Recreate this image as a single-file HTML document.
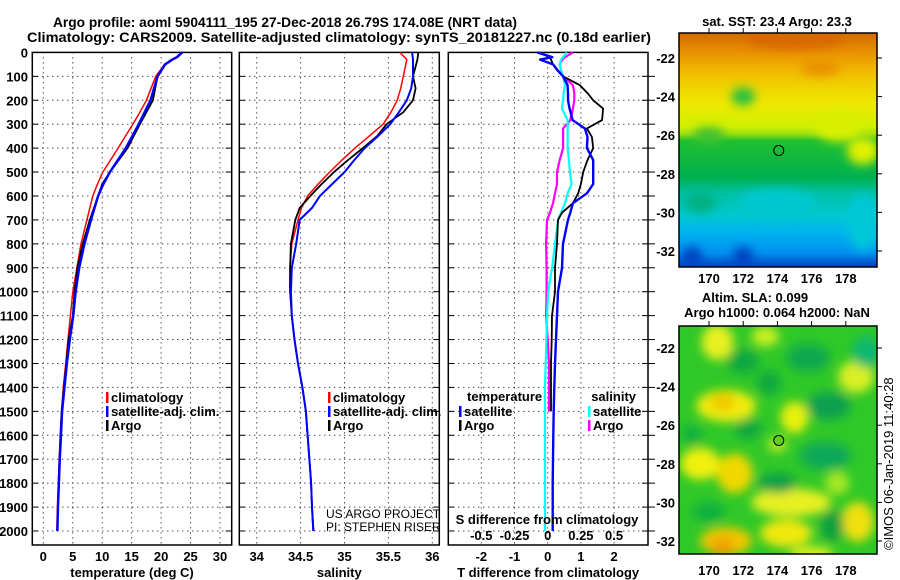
<!DOCTYPE html>
<html><head><meta charset="utf-8"><style>
html,body{margin:0;padding:0;background:#fff;}
svg{display:block;font-family:"Liberation Sans",Arial,sans-serif;}
.b{font-weight:bold;font-size:13px;}
</style></head><body>
<svg id="chart" width="900" height="580" viewBox="0 0 900 580" xmlns="http://www.w3.org/2000/svg">
<defs>
<filter id="blur1" x="-10%" y="-10%" width="120%" height="120%"><feGaussianBlur stdDeviation="5"/></filter>
<filter id="blur2" x="-10%" y="-10%" width="120%" height="120%"><feGaussianBlur stdDeviation="5"/></filter>
<clipPath id="clipM1"><rect x="679" y="33" width="198" height="234"/></clipPath>
<clipPath id="clipM2"><rect x="679" y="326" width="198" height="228"/></clipPath>
<linearGradient id="sstGrad" x1="0" y1="0" x2="0" y2="1">
<stop offset="0" stop-color="#d46a00"/><stop offset="0.08" stop-color="#e89000"/>
<stop offset="0.16" stop-color="#f2b800"/><stop offset="0.22" stop-color="#f0d000"/>
<stop offset="0.3" stop-color="#f0e800"/><stop offset="0.4" stop-color="#d0f000"/>
<stop offset="0.43" stop-color="#a0e010"/>
<stop offset="0.46" stop-color="#20c030"/><stop offset="0.62" stop-color="#00b050"/>
<stop offset="0.68" stop-color="#00c0a0"/><stop offset="0.78" stop-color="#00c8d0"/>
<stop offset="0.86" stop-color="#00b0f0"/><stop offset="0.94" stop-color="#0090f0"/>
<stop offset="1" stop-color="#0040c0"/></linearGradient>
</defs>
<g id="title">
<text x="53" y="27" font-size="14" font-weight="bold" textLength="464" lengthAdjust="spacingAndGlyphs">Argo profile: aoml 5904111_195 27-Dec-2018 26.79S 174.08E (NRT data)</text>
<text x="27" y="42" font-size="14" font-weight="bold" textLength="624" lengthAdjust="spacingAndGlyphs">Climatology: CARS2009. Satellite-adjusted climatology: synTS_20181227.nc (0.18d earlier)</text>
</g>
<g id="plots"></g>
<g id="maps"></g>
</svg>
<script>
// ---------- data ----------
const tDepth = [0,20,30,50,100,150,200,250,300,400,500,550,600,700,800,900,1000,1100,1200,1300,1400,1500,1600,1700,1800,1900,2000];
const tArgo  = [23.5,22.6,21.8,20.6,19.4,19.0,18.6,17.5,16.4,14.3,11.3,10.0,9.3,7.9,6.7,5.8,5.3,5.0,4.3,3.9,3.5,3.1,2.9,2.75,2.6,2.5,2.4];
const tClim  = [23.6,22.6,21.8,20.6,19.1,18.3,17.5,16.4,15.2,12.7,10.1,9.2,8.4,7.4,6.4,5.7,5.0,4.6,4.2,3.8,3.4,3.1,2.9,2.7,2.55,2.4,2.3];
const tSat   = [23.6,22.7,21.9,20.7,19.4,18.8,18.2,17.2,16.2,14.0,11.3,10.2,9.3,8.1,7.0,6.1,5.5,5.1,4.5,4.0,3.6,3.2,3.0,2.8,2.65,2.5,2.4];
const sDepth = [0,30,100,150,200,250,300,350,400,450,500,550,600,650,700,800,900,1000,1100,1200,1300,1400,1500,1600,1700,1800,1900,2000];
const sArgo  = [35.84,35.83,35.78,35.81,35.78,35.67,35.48,35.37,35.21,35.04,34.88,34.74,34.61,34.49,34.44,34.39,34.38,34.38,34.40,34.43,34.47,34.52,34.56,34.58,34.60,34.62,34.63,34.645];
const sClim  = [35.63,35.71,35.67,35.64,35.60,35.53,35.44,35.28,35.12,34.97,34.83,34.70,34.58,34.51,34.47,34.40,34.38,34.38,34.40,34.43,34.47,34.52,34.56,34.58,34.60,34.62,34.63,34.65];
const sSat   = [35.77,35.78,35.78,35.76,35.71,35.62,35.52,35.38,35.23,35.11,35.00,34.86,34.72,34.63,34.49,34.45,34.40,34.39,34.40,34.43,34.47,34.52,34.56,34.58,34.60,34.62,34.63,34.645];
const dDepth = [0,20,30,50,75,100,137,170,200,235,283,318,353,400,450,500,550,589,630,670,700,800,900,1000,1100,1200,1300,1400,1500,1600,1700,1800,1900,2000];
const dTArgo = [-0.29,0.07,0.1,0.16,0.28,0.46,0.97,1.2,1.37,1.67,1.64,1.18,1.33,1.37,1.2,1.07,1.0,0.92,0.76,0.43,0.31,0.28,0.22,0.22,0.13,0.12,0.1,0.1,0.1,null,null,null,null,null];
const dTSat  = [-0.32,0.14,-0.23,0.16,0.3,0.46,0.6,0.61,0.61,0.66,0.75,1.12,1.2,1.18,1.37,1.37,1.37,1.18,0.76,0.68,0.61,0.46,0.43,0.31,0.28,0.25,0.22,0.2,0.18,0.17,0.16,0.15,0.15,0.15];
const dSArgo = [0.19,0.13,0.11,0.09,0.1,0.116,0.19,0.2,0.2,0.19,0.17,0.116,0.116,0.116,0.09,0.07,0.07,0.055,0.04,0.017,-0.005,-0.012,-0.008,-0.008,-0.012,0.0,0.01,0.01,0.01,null,null,null,null,null];
const dSSat  = [0.143,0.116,0.1,0.09,0.1,0.116,0.13,0.12,0.116,0.107,0.15,0.15,0.15,0.15,0.16,0.168,0.18,0.15,0.13,0.1,0.078,0.055,0.033,0.003,-0.005,-0.01,-0.015,-0.02,-0.02,-0.02,-0.02,-0.02,-0.02,-0.02];
const depthTicks = [0,100,200,300,400,500,600,700,800,900,1000,1100,1200,1300,1400,1500,1600,1700,1800,1900,2000];
const tTicks = [0,5,10,15,20,25,30];
const sTicks = [34,34.5,35,35.5,36];
const tdTicks = [-2,-1,0,1,2];
const sdTicks = [-0.5,-0.25,0,0.25,0.5];
const sdTickLabels = ["-0.5","-0.25","0","0.25","0.5"];
const lonTicks = [170,172,174,176,178];
const latTicks = [-22,-24,-26,-28,-30,-32];
const argoLon = 174.08, argoLat = -26.79;

// ---------- scales ----------
const NS="http://www.w3.org/2000/svg";
const yD = d => 52.4 + d*0.2393;
const xT = v => 43.3 + v*5.89;
const xS = v => 256.7 + (v-34)*87.8;
const xTd = v => 547.7 + v*33.2;
const xSd = v => 547.7 + v*132.8;
const xLon = v => 709 + (v-170)*17.1;
const yLat1 = v => 58 + (-22-v)*19.3;
const yLat2 = v => 348 + (-22-v)*19.3;

function el(tag, attrs, parent, txt){
  const e=document.createElementNS(NS,tag);
  for(const k in attrs) e.setAttribute(k,attrs[k]);
  if(txt!==undefined) e.textContent=txt;
  parent.appendChild(e); return e;
}
const plots=document.getElementById('plots');
const maps=document.getElementById('maps');

function panel(name,x0,x1,xticks,xs,labels,xlabel){
  const g=el('g',{},plots);
  
  
  const top=52.4,bot=545;
  for(const d of depthTicks){ if(d===0) continue;
    el('line',{x1:x0,x2:x1,y1:yD(d),y2:yD(d),stroke:'#000','stroke-width':1,'stroke-dasharray':'1,4'},g);
    el('line',{x1:x0,x2:x0+6,y1:yD(d),y2:yD(d),stroke:'#000'},g);
    el('line',{x1:x1-6,x2:x1,y1:yD(d),y2:yD(d),stroke:'#000'},g);
  }
  xticks.forEach((t,i)=>{
    el('line',{x1:xs(t),x2:xs(t),y1:top,y2:bot,stroke:'#000','stroke-width':1,'stroke-dasharray':'1,4'},g);
    if(labels){
      const tl=el('text',{x:xs(t),y:561,'text-anchor':'middle',class:'b'},g,labels[i]);
      
      
    }
  });
  el('rect',{x:x0,y:top,width:x1-x0,height:bot-top,fill:'none',stroke:'#000','stroke-width':1.5},g);
  const xl=el('text',{x:(x0+x1)/2,y:577,'text-anchor':'middle',class:'b'},g,xlabel);
  
  
  return g;
}
function line(g,depths,vals,xs,color,w,name){
  let d='',pen=false;
  depths.forEach((z,i)=>{const v=vals[i]; if(v===null||v===undefined){pen=false;return;}
    d+=(pen?'L':'M')+xs(v).toFixed(1)+','+yD(z).toFixed(1); pen=true;});
  const p=el('path',{d:d,fill:'none',stroke:color,'stroke-width':w,'stroke-linejoin':'round'},g);
  
  
}
function legend(g,x,y,items){
  items.forEach((it,i)=>{
    el('rect',{x:x,y:y+i*14-6,width:2.5,height:11,fill:it[1]},g);
    const t=el('text',{x:x+5,y:y+i*14+4,class:'b'},g,it[0]);
    
    
  });
}

depthTicks.forEach(d=>{
  const t=el('text',{x:28,y:yD(d)+5,'text-anchor':'end',class:'b'},plots,String(d));
  
  
});

const g1=panel('temperature',32.3,231.7,tTicks,xT,tTicks.map(String),'temperature (deg C)');
line(g1,tDepth,tClim,xT,'#f00',1.5,'temperature-climatology-line');
line(g1,tDepth,tArgo,xT,'#000',1.8,'temperature-argo-line');
line(g1,tDepth,tSat,xT,'#00f',2.4,'temperature-satellite-line');
legend(g1,106,398,[['climatology','#f00'],['satellite-adj. clim.','#00f'],['Argo','#000']]);

const g2=panel('salinity',239.3,439.3,sTicks,xS,sTicks.map(String),'salinity');
line(g2,sDepth,sClim,xS,'#f00',1.5,'salinity-climatology-line');
line(g2,sDepth,sArgo,xS,'#000',1.8,'salinity-argo-line');
line(g2,sDepth,sSat,xS,'#00f',2.0,'salinity-satellite-line');
legend(g2,328,398,[['climatology','#f00'],['satellite-adj. clim.','#00f'],['Argo','#000']]);
const pi=el('g',{},g2);
el('text',{x:326,y:518,'font-size':12},pi,'US ARGO PROJECT');
el('text',{x:326,y:531,'font-size':12},pi,'PI: STEPHEN RISER');



const g3=panel('difference',448.3,648,tdTicks,xTd,tdTicks.map(String),'T difference from climatology');
for(const d of depthTicks){ if(d===0) continue; el('line',{x1:648,x2:655,y1:yD(d),y2:yD(d),stroke:'#000'},g3);}
line(g3,dDepth,dSArgo,xSd,'#f0f',2.2,'salinity-diff-argo-line');
line(g3,dDepth,dSSat,xSd,'#0ff',2.2,'salinity-diff-satellite-line');
line(g3,dDepth,dTArgo,xTd,'#000',1.8,'temperature-diff-argo-line');
line(g3,dDepth,dTSat,xTd,'#00f',2.4,'temperature-diff-satellite-line');
el('text',{x:467,y:401,class:'b'},g3,'temperature');
legend(g3,459,412,[['satellite','#00f'],['Argo','#000']]);
el('text',{x:636,y:401,class:'b','text-anchor':'end'},g3,'salinity');
legend(g3,588,412,[['satellite','#0ff'],['Argo','#f0f']]);
const sdt=el('text',{x:547,y:524,class:'b','text-anchor':'middle'},g3,'S difference from climatology');


sdTicks.forEach((t,i)=>{
  const tl=el('text',{x:xSd(t),y:540,class:'b','text-anchor':'middle'},g3,sdTickLabels[i]);
  
  
});

// ---------- maps ----------
function mapFrame(name){
  const g=el('g',{},maps);
  
  
  return g;
}
const m1=mapFrame('sst-map');
const m1c=el('g',{'clip-path':'url(#clipM1)'},m1);
el('rect',{x:679,y:33,width:198,height:234,fill:'url(#sstGrad)'},m1c);
const b1=el('g',{filter:'url(#blur1)'},m1c);
const sstBlobs=[[172,-24,12,9,'#20c040'],[177.5,-25.5,22,16,'#d8f000'],[179,-26.8,16,14,'#e0f000'],[170,-26,16,8,'#40c030'],
 [174,-29.5,40,14,'#00c8d0'],[179,-30.5,16,28,'#00c8d8'],[172,-32.3,10,10,'#0040c0'],[169,-32.3,10,10,'#0040c0'],
 [169.5,-29.5,16,10,'#00b080'],[175,-21,50,10,'#d86800'],[176.5,-22.5,20,8,'#e89000']];
sstBlobs.forEach(b=>el('ellipse',{cx:xLon(b[0]),cy:yLat1(b[1]),rx:b[2],ry:b[3],fill:b[4]},b1));
el('rect',{x:679,y:33,width:198,height:234,fill:'none',stroke:'#000','stroke-width':1.5},m1);

const m2=mapFrame('sla-map');
const m2c=el('g',{'clip-path':'url(#clipM2)'},m2);
el('rect',{x:679,y:326,width:198,height:228,fill:'#30c828'},m2c);
const b2=el('g',{filter:'url(#blur2)'},m2c);
const slaBlobs=[
 [170.5,-21.7,16,18,'#e8f020'],[171,-25,30,16,'#f0ec10'],[170.8,-24.8,12,9,'#f0c800'],[169.5,-28,20,16,'#f0f010'],[171.5,-28.5,18,20,'#f0d800'],
 [175,-25.6,14,16,'#e8f010'],[174,-27,10,8,'#b0e820'],[174.8,-30,40,14,'#e8f020'],[174.5,-31.6,26,14,'#f0e810'],[171,-32,26,14,'#f0c800'],[170.8,-32.3,12,10,'#f0a000'],
 [178.7,-31,16,20,'#f0e010'],[178.6,-23.5,18,16,'#d8f020'],[176,-32.7,22,8,'#e0f020'],[173.3,-21.4,14,10,'#c8f020'],[177.5,-29,12,12,'#a8e820'],
 [172,-22.7,16,12,'#10a840'],[175.8,-22.5,22,14,'#10a850'],[179.2,-22.2,14,16,'#10b870'],[173.5,-23.8,12,12,'#10a840'],[177,-25,22,14,'#10a050'],
 [172.3,-26.2,14,10,'#10a840'],[176.8,-27.6,26,14,'#10a858'],[174,-29,20,10,'#10a048'],[177.2,-31.2,12,16,'#10a040'],[170,-30.5,16,10,'#10b040'],[169,-26.5,10,10,'#10b040']];
slaBlobs.forEach(b=>el('ellipse',{cx:xLon(b[0]),cy:yLat2(b[1]),rx:b[2],ry:b[3],fill:b[4]},b2));
el('rect',{x:679,y:326,width:198,height:228,fill:'none',stroke:'#000','stroke-width':1.5},m2);

[[yLat1,267,283,33,'sst'],[yLat2,554,575,326,'sla']].forEach(([yl,bot,ly,top,nm])=>{
  lonTicks.forEach(v=>{
    el('line',{x1:xLon(v),x2:xLon(v),y1:top-5,y2:top,stroke:'#000'},maps);
    const t=el('text',{x:xLon(v),y:ly,class:'b','text-anchor':'middle'},maps,String(v));
    
    
  });
  latTicks.forEach(v=>{
    el('line',{x1:877,x2:882,y1:yl(v),y2:yl(v),stroke:'#000'},maps);
    const t=el('text',{x:675,y:yl(v)+5,class:'b','text-anchor':'end'},maps,String(v));
    
    
  });
});
[[yLat1,'none'],[yLat2,'#60d020']].forEach(([yl,f])=>{
  const c=el('circle',{cx:xLon(argoLon),cy:yl(argoLat),r:5,fill:f,stroke:'#000','stroke-width':1},maps);
  
  
});
const mt=el('g',{},maps);


el('text',{x:777,y:26,class:'b','text-anchor':'middle'},mt,'sat. SST: 23.4 Argo: 23.3');
el('text',{x:755,y:302,class:'b','text-anchor':'middle'},mt,'Altim. SLA: 0.099');
el('text',{x:777,y:317,class:'b','text-anchor':'middle'},mt,'Argo h1000: 0.064 h2000: NaN');
const stamp=el('text',{x:0,y:0,'font-size':13,transform:'translate(893,550) rotate(-90)'},maps,'©IMOS 06-Jan-2019 11:40:28');


</script>
</body></html>
